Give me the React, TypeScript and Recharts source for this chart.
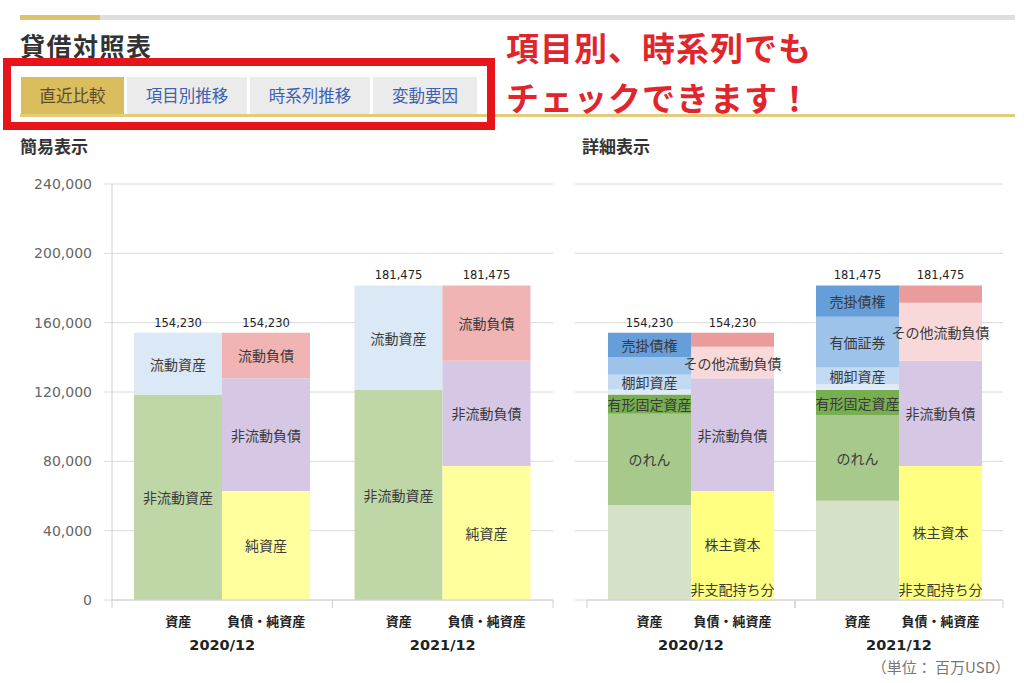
import React from 'react';
import { BarChart, Bar, XAxis, YAxis, CartesianGrid, LabelList } from 'recharts';

const years = ['2020/12', '2021/12'];
const sideLabels = ['資産', '負債・純資産'];
const yTicks = [0, 40000, 80000, 120000, 160000, 200000, 240000];
const totals = [154230, 181475];

// 簡易表示
const currentAssets = [35730, 60375];
const nonCurrentAssets = [118500, 121100];
const currentLiabilities = [26330, 43425];
const nonCurrentLiabilities = [65000, 60750];
const netAssets = [62900, 77300];

// 詳細表示
const receivables = [14030, 18075];
const securities = [10300, 29200];
const securitiesLabels = ['', '有価証券'];
const inventories = [8500, 9600];
const otherCurrentAssets = [2900, 3500];
const ppe = [11000, 14400];
const goodwill = [52700, 49400];
const otherNonCurrentAssets = [54800, 57300];
const payables = [8100, 9925];
const otherCurrentLiabilities = [18230, 33500];
const shareholdersEquity = [61400, 75800];
const nonControlling = [1500, 1500];

const tabs = ['直近比較', '項目別推移', '時系列推移', '変動要因'];

type Seg = {
  key: string;
  name: string;
  stack: 'a' | 'l';
  color: string;
  values: number[];
  labels?: string[];
  bottom?: boolean;
};

const simpleSegs: Seg[] = [
  { key: 'nca', name: '非流動資産', stack: 'a', color: '#bfd7a7', values: nonCurrentAssets },
  { key: 'ca', name: '流動資産', stack: 'a', color: '#dbe8f6', values: currentAssets },
  { key: 'na', name: '純資産', stack: 'l', color: '#ffff9e', values: netAssets },
  { key: 'ncl', name: '非流動負債', stack: 'l', color: '#d6c8e4', values: nonCurrentLiabilities },
  { key: 'cl', name: '流動負債', stack: 'l', color: '#f1b4b4', values: currentLiabilities },
];

const detailSegs: Seg[] = [
  { key: 'onca', name: 'その他非流動資産', stack: 'a', color: '#d5e2c9', values: otherNonCurrentAssets, labels: ['', ''] },
  { key: 'gw', name: 'のれん', stack: 'a', color: '#a8c98c', values: goodwill },
  { key: 'ppe', name: '有形固定資産', stack: 'a', color: '#76ae50', values: ppe },
  { key: 'oca', name: 'その他流動資産', stack: 'a', color: '#deebf7', values: otherCurrentAssets, labels: ['', ''] },
  { key: 'inv', name: '棚卸資産', stack: 'a', color: '#c2daf2', values: inventories },
  { key: 'sec', name: '有価証券', stack: 'a', color: '#9ec3ea', values: securities, labels: securitiesLabels },
  { key: 'rec', name: '売掛債権', stack: 'a', color: '#659ed9', values: receivables },
  { key: 'nci', name: '非支配持ち分', stack: 'l', color: '#ffff82', values: nonControlling, bottom: true },
  { key: 'eq', name: '株主資本', stack: 'l', color: '#ffff82', values: shareholdersEquity },
  { key: 'ncl', name: '非流動負債', stack: 'l', color: '#d6c8e4', values: nonCurrentLiabilities },
  { key: 'ocl', name: 'その他流動負債', stack: 'l', color: '#f8d8d8', values: otherCurrentLiabilities },
  { key: 'pay', name: '買掛債務', stack: 'l', color: '#ea9b9b', values: payables, labels: ['', ''] },
];

const buildRows = (segs: Seg[]) =>
  years.map((year, i) => {
    const row: any = { year, assetTotal: totals[i], liabTotal: totals[i] };
    segs.forEach((s) => {
      row[s.key] = s.values[i];
      row[s.key + 'Label'] = s.labels ? s.labels[i] : s.name;
    });
    return row;
  });

const CJK = "'Noto Sans CJK JP', sans-serif";
const NUM = "'DejaVu Sans', sans-serif";

const box = (p: any) => {
  const vb = p.viewBox || {};
  return {
    x: p.x ?? vb.x,
    y: p.y ?? vb.y,
    w: p.width ?? vb.width,
    h: p.height ?? vb.height,
  };
};

const SegLabel = (p: any) => {
  if (!p.value) return null;
  const { x, y, w, h } = box(p);
  return (
    <text x={x + w / 2} y={y + h / 2} textAnchor="middle" dominantBaseline="central"
      fontSize={14} fill="#3a3a3a" fontFamily={CJK}>
      {p.value}
    </text>
  );
};

const BottomLabel = (p: any) => {
  if (!p.value) return null;
  const { x, y, w, h } = box(p);
  return (
    <text x={x + w / 2} y={y + h - 11} textAnchor="middle" dominantBaseline="central"
      fontSize={14} fill="#3a3a3a" fontFamily={CJK}>
      {p.value}
    </text>
  );
};

const TotalLabel = (p: any) => {
  const { x, y, w } = box(p);
  return (
    <text x={x + w / 2} y={y - 10} textAnchor="middle" dominantBaseline="central"
      fontSize={11.5} fill="#222" fontFamily={NUM}>
      {Number(p.value).toLocaleString('en-US')}
    </text>
  );
};

const makeTick = (bandWidth: number, barSize: number) => (p: any) => {
  const { x, y, payload } = p;
  return (
    <g>
      <line x1={x - bandWidth / 2} x2={x - bandWidth / 2} y1={y - 8} y2={y} stroke="#d0d0d0" />
      <line x1={x + bandWidth / 2} x2={x + bandWidth / 2} y1={y - 8} y2={y} stroke="#d0d0d0" />
      {sideLabels.map((t, i) => (
        <text key={t} x={x + (i === 0 ? -barSize / 2 : barSize / 2)} y={y + 12} textAnchor="middle"
          dominantBaseline="central" fontSize={13} fontWeight="bold" fill="#222" fontFamily={CJK}>
          {t}
        </text>
      ))}
      <text x={x} y={y + 37} textAnchor="middle" dominantBaseline="central" fontSize={14.5}
        fontWeight="bold" fill="#222" fontFamily={NUM}>
        {payload.value}
      </text>
    </g>
  );
};

function StackChart({ segs, width, yAxisWidth, marginLeft, marginRight, barSize, showY }: any) {
  const rows = buildRows(segs);
  const plotW = width - marginLeft - marginRight - yAxisWidth;
  const lastA = [...segs].reverse().find((s: Seg) => s.stack === 'a').key;
  const lastL = [...segs].reverse().find((s: Seg) => s.stack === 'l').key;
  return (
    <BarChart width={width} height={523} data={rows} barGap={0} barSize={barSize}
      margin={{ top: 24, right: marginRight, bottom: 23, left: marginLeft }}>
      <CartesianGrid vertical={false} stroke="#dadada" />
      <YAxis domain={[0, 240000]} ticks={yTicks} width={yAxisWidth} interval={0}
        axisLine={showY ? { stroke: '#d0d0d0' } : false}
        tickLine={{ stroke: '#dadada' }} tickSize={showY ? 8 : 12} tickMargin={12}
        tick={showY ? { fill: '#666', fontSize: 14, fontFamily: NUM } : () => <g />}
        tickFormatter={(v: number) => v.toLocaleString('en-US')} />
      <XAxis dataKey="year" height={60} axisLine={{ stroke: '#d0d0d0' }} tickLine={false}
        tickSize={8} tickMargin={0} interval={0} tick={makeTick(plotW / years.length, barSize)} />
      {segs.map((s: Seg) => (
        <Bar key={s.key} dataKey={s.key} stackId={s.stack} fill={s.color} isAnimationActive={false}>
          <LabelList dataKey={s.key + 'Label'} content={s.bottom ? BottomLabel : SegLabel} />
          {s.key === lastA && <LabelList dataKey="assetTotal" content={TotalLabel} />}
          {s.key === lastL && <LabelList dataKey="liabTotal" content={TotalLabel} />}
        </Bar>
      ))}
    </BarChart>
  );
}

export default function App() {
  return (
    <div style={{ position: 'absolute', left: 0, top: 0, width: 1024, height: 683, background: '#fff',
      fontFamily: CJK, overflow: 'hidden' }}>
      {/* top rule */}
      <div style={{ position: 'absolute', left: 20, top: 15, width: 995, height: 5, background: '#dedede' }} />
      <div style={{ position: 'absolute', left: 20, top: 15, width: 80, height: 5, background: '#dcc46e' }} />
      <div style={{ position: 'absolute', left: 20, top: 27, fontSize: 25, fontWeight: 'bold', color: '#333',
        letterSpacing: 1.5, lineHeight: '36px' }}>貸借対照表</div>

      {/* tabs */}
      <div style={{ position: 'absolute', left: 20, top: 114, width: 995, height: 3, background: '#e2cc7a' }} />
      {tabs.map((t, i) => {
        const lefts = [21, 127, 250, 373];
        const widths = [103, 120, 120, 104];
        return (
          <div key={t} style={{ position: 'absolute', left: lefts[i], top: 77, width: widths[i], height: 37,
            background: i === 0 ? '#dabd5c' : '#ebebeb', color: i === 0 ? '#5a4b2c' : '#3d62b0',
            fontSize: 16.5, lineHeight: '37px', textAlign: 'center' }}>{t}</div>
        );
      })}
      <div style={{ position: 'absolute', left: 3, top: 58, width: 476, height: 56,
        border: '8px solid #e8141c' }} />

      {/* callout */}
      <div style={{ position: 'absolute', left: 506, top: 22, fontSize: 33, fontWeight: 'bold', color: '#e0262c',
        lineHeight: '50px', letterSpacing: 1 }}>
        項目別、時系列でも<br />チェックできます！
      </div>

      <div style={{ position: 'absolute', left: 20, top: 134, fontSize: 17, fontWeight: 'bold', color: '#333',
        lineHeight: '24px' }}>簡易表示</div>
      <div style={{ position: 'absolute', left: 582, top: 134, fontSize: 17, fontWeight: 'bold', color: '#333',
        lineHeight: '24px' }}>詳細表示</div>

      <div style={{ position: 'absolute', left: 0, top: 160 }}>
        <StackChart segs={simpleSegs} width={570} yAxisWidth={100} marginLeft={12} marginRight={17}
          barSize={88} showY />
      </div>
      <div style={{ position: 'absolute', left: 560, top: 160 }}>
        <StackChart segs={detailSegs} width={460} yAxisWidth={27} marginLeft={0} marginRight={17}
          barSize={83} showY={false} />
      </div>

      <div style={{ position: 'absolute', right: 14, top: 656, fontSize: 15, color: '#777', lineHeight: '22px',
        whiteSpace: 'pre' }}>
        {'（単位： 百万USD）'}
      </div>
    </div>
  );
}
